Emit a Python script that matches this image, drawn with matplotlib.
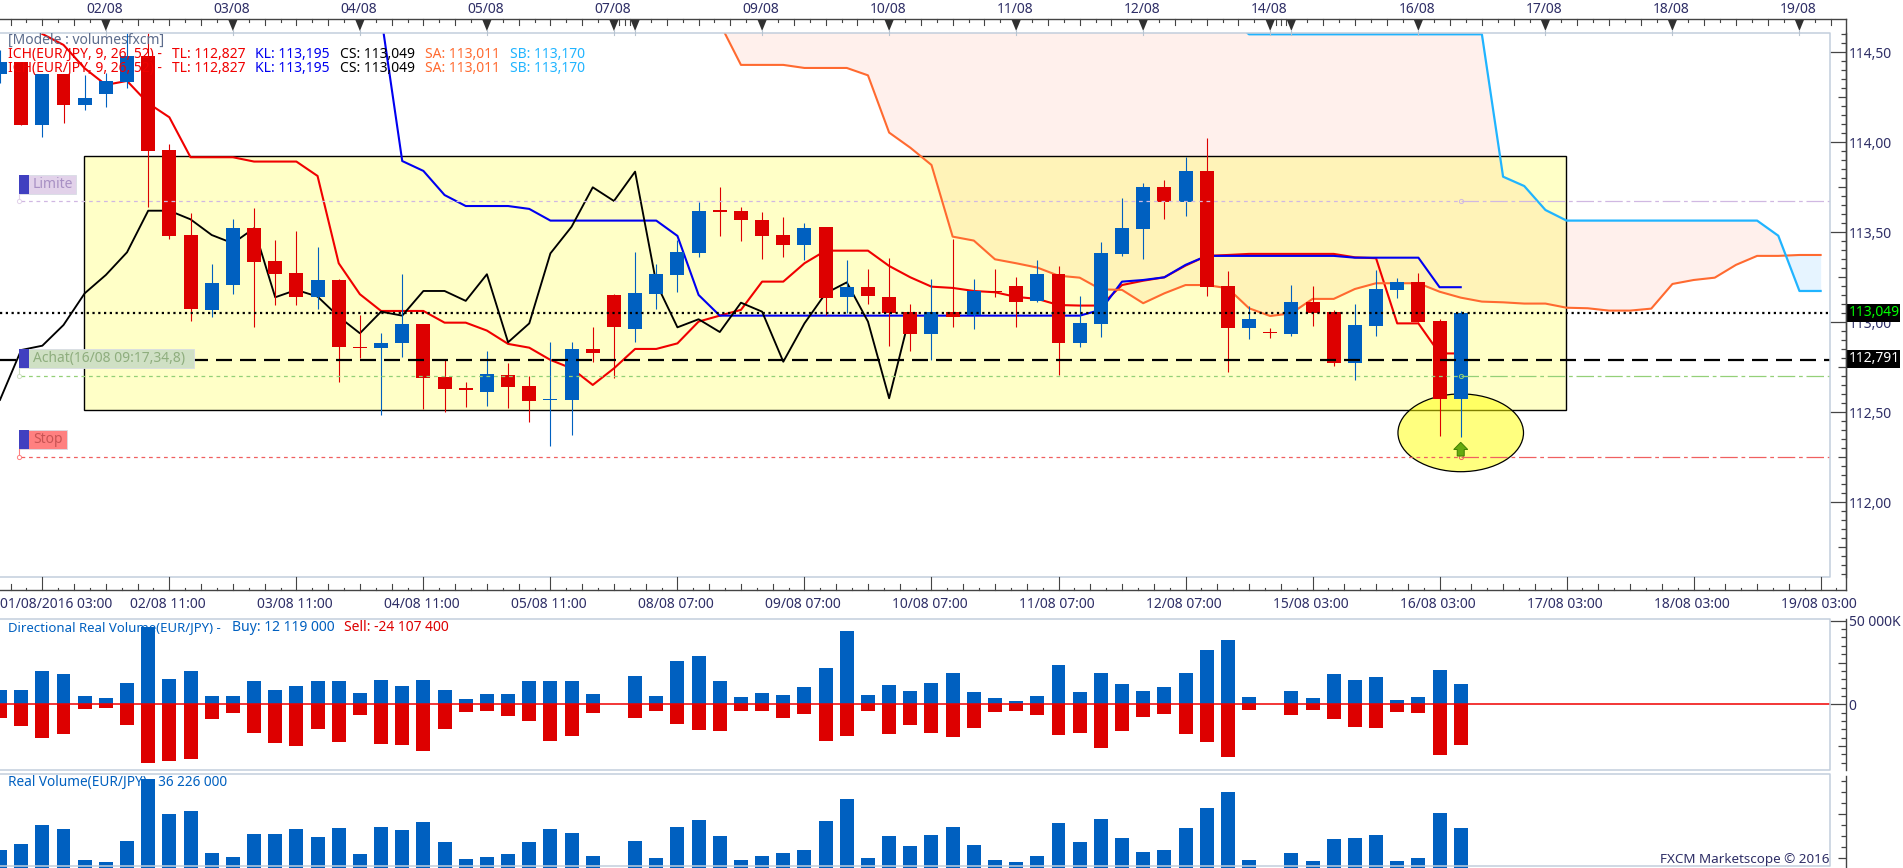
import numpy as np
import matplotlib
matplotlib.use("Agg")
import matplotlib.pyplot as plt
from matplotlib.patches import Rectangle, Ellipse, Polygon

W, H = 1903, 868
plt.rcParams['font.family'] = ['Noto Sans', 'DejaVu Sans']

opens = [114.380,114.446,114.096,114.380,114.207,114.268,114.335,114.480,113.957,113.485,
         113.069,113.209,113.524,113.341,113.274,113.143,113.235,112.865,112.859,112.887,
         112.991,112.696,112.635,112.615,112.707,112.646,112.567,112.570,112.852,113.152,
         112.965,113.157,113.263,113.385,113.624,113.619,113.569,113.485,113.430,113.530,
         113.141,113.196,113.141,113.056,112.937,113.056,113.041,113.174,113.202,113.119,
         113.268,112.887,112.991,113.380,113.518,113.752,113.670,113.841,113.202,112.969,
         112.948,112.937,113.113,113.056,112.776,112.980,113.180,113.224,113.007,112.576]
highs = [114.513,114.446,114.380,114.380,114.374,114.387,114.606,114.606,113.991,113.606,
         113.324,113.574,113.635,113.457,113.507,113.419,113.241,113.041,112.939,113.268,
         112.991,112.791,112.667,112.841,112.772,112.702,112.891,112.891,112.976,113.157,
         113.391,113.324,113.457,113.670,113.752,113.641,113.613,113.585,113.552,113.530,
         113.346,113.296,113.357,113.102,113.241,113.463,113.241,113.296,113.252,113.346,
         113.313,113.146,113.446,113.691,113.774,113.791,113.920,114.024,113.285,113.091,
         112.970,113.207,113.202,113.069,113.102,113.291,113.246,113.274,113.019,113.063]
lows = [114.328,114.096,114.031,114.109,114.180,114.198,114.302,113.639,113.463,113.009,
        113.031,113.157,112.976,113.098,113.096,113.074,112.670,112.804,112.485,112.809,
        112.518,112.504,112.531,112.535,112.526,112.448,112.315,112.374,112.778,112.693,
        112.893,113.076,113.169,113.363,113.480,113.452,113.352,113.363,113.346,113.041,
        113.050,113.102,112.868,112.841,112.791,112.976,112.965,113.143,112.976,113.113,
        112.707,112.865,112.920,113.369,113.352,113.574,113.591,113.146,112.726,112.907,
        112.915,112.926,112.980,112.759,112.681,112.926,113.135,113.002,112.370,112.365]
closes = [114.446,114.096,114.380,114.207,114.246,114.341,114.480,113.952,113.480,113.076,
          113.219,113.524,113.337,113.268,113.143,113.235,112.865,112.857,112.883,112.991,
          112.693,112.631,112.624,112.713,112.643,112.565,112.574,112.852,112.831,112.976,
          113.163,113.268,113.391,113.619,113.613,113.569,113.480,113.430,113.524,113.135,
          113.196,113.146,113.054,112.937,113.056,113.031,113.174,113.167,113.113,113.268,
          112.887,112.996,113.385,113.524,113.752,113.670,113.841,113.196,112.969,113.019,
          112.941,113.113,113.054,112.776,112.985,113.185,113.224,113.002,112.576,113.049]

tenkan_start = 2
tenkan = [114.602,114.541,114.411,114.319,114.341,114.217,114.139,113.917,113.917,113.917,
          113.893,113.893,113.893,113.813,113.328,113.156,113.063,113.063,113.063,112.998,
          112.998,112.954,112.880,112.859,112.791,112.744,112.652,112.744,112.852,112.852,
          112.883,113.004,113.037,113.069,113.226,113.226,113.328,113.398,113.398,113.398,
          113.313,113.250,113.198,113.191,113.174,113.167,113.141,113.130,113.096,113.093,
          113.093,113.207,113.231,113.250,113.315,113.369,113.374,113.380,113.380,113.380,
          113.380,113.380,113.361,113.356,112.994,112.994,112.827,112.827]
kijun_start = 18
kijun = [114.704,113.896,113.841,113.707,113.646,113.646,113.646,113.630,113.565,113.565,
         113.565,113.565,113.565,113.565,113.480,113.152,113.037,113.037,113.037,113.037,
         113.037,113.037,113.037,113.037,113.037,113.037,113.037,113.037,113.037,113.037,
         113.037,113.037,113.037,113.037,113.069,113.226,113.235,113.250,113.319,113.369,
         113.369,113.369,113.369,113.369,113.369,113.369,113.359,113.359,113.359,113.359,
         113.195,113.195]
chikou = [112.569,112.846,112.870,112.985,113.161,113.263,113.389,113.620,113.620,113.572,
          113.485,113.439,113.522,113.139,113.180,113.143,113.031,112.939,113.059,113.037,
          113.174,113.174,113.119,113.267,112.889,112.994,113.383,113.531,113.750,113.674,
          113.837,113.217,112.972,113.017,112.946,113.109,113.059,112.781,112.994,113.161,
          113.222,113.004,112.578,113.049]
senkou_start = 34
senkou_a = [114.661,114.430,114.430,114.430,114.413,114.413,114.413,114.372,114.054,113.970,
            113.874,113.476,113.454,113.350,113.328,113.304,113.259,113.248,113.183,113.180,
            113.106,113.161,113.207,113.207,113.189,113.078,113.035,113.050,113.130,113.130,
            113.185,113.217,113.217,113.217,113.170,113.137,113.115,113.111,113.104,113.104,
            113.081,113.078,113.065,113.065,113.076,113.213,113.235,113.248,113.319,113.369,
            113.369,113.374,113.374]
senkou_b = [114.70,114.70,114.70,114.70,114.70,114.70,114.70,114.70,114.70,114.70,
            114.70,114.70,114.70,114.70,114.70,114.70,114.70,114.70,114.70,114.70,
            114.70,114.70,114.70,114.70,114.70,114.60,114.60,114.60,114.60,114.60,
            114.60,114.60,114.60,114.60,114.60,114.60,114.60,113.809,113.757,113.624,
            113.565,113.565,113.565,113.565,113.565,113.565,113.565,113.565,113.565,113.565,
            113.481,113.174,113.174]

buy = [8.6,8.6,20.0,18.2,5.0,3.8,12.8,46.2,15.2,20.0,5.0,5.0,14.0,8.6,11.0,14.0,14.0,6.8,14.6,11.0,
       14.6,8.6,3.2,6.2,6.2,14.0,14.0,14.0,6.2,0,17.0,5.0,26.0,29.0,14.0,4.4,6.8,5.6,10.4,21.8,
       44.0,5.6,11.6,8.0,12.8,18.8,7.4,3.8,2.0,5.0,23.6,7.4,18.8,12.2,8.0,10.4,18.8,32.6,38.6,4.4,
       0,8.0,3.8,18.2,14.6,16.4,2.6,4.4,20.6,12.119]
sell = [-8.2,-13.0,-20.2,-17.8,-2.8,-2.2,-12.4,-35.2,-34.0,-32.8,-8.8,-5.2,-17.2,-23.2,-25.0,-14.8,-22.6,-6.4,-23.8,-24.4,
        -28.0,-14.8,-4.6,-4.0,-7.0,-10.0,-22.0,-19.0,-5.2,0,-8.2,-4.0,-11.8,-15.4,-16.0,-4.0,-4.0,-8.2,-5.8,-22.0,
        -19.0,-4.0,-17.8,-12.4,-17.2,-19.6,-14.2,-4.6,-4.0,-6.4,-18.4,-17.2,-26.2,-16.0,-7.6,-5.8,-17.8,-22.6,-31.6,-3.4,
        0,-6.4,-3.4,-8.8,-13.6,-14.2,-4.6,-5.2,-30.4,-24.107]
volume = [16.5,21.9,39.0,35.4,7.5,5.7,24.6,80.4,48.9,51.6,13.8,10.2,30.9,30.9,35.4,28.2,36.3,12.9,37.2,34.5,
          41.7,23.7,8.4,10.2,12.9,23.7,35.4,31.8,11.1,0,24.6,9.3,37.2,43.5,29.1,7.5,11.1,13.8,16.5,42.6,
          62.4,9.3,29.1,20.1,30.0,37.2,21.0,7.5,5.7,11.1,40.8,23.7,44.4,27.3,14.7,16.5,36.3,54.3,68.7,7.5,
          0,13.8,6.6,26.4,27.3,30.0,6.6,9.3,49.8,36.226]

close_level = 113.049
entry_level = 112.791
limit_level = 113.672
green_level = 112.70
stop_level = 112.25
zone_x = [3.97, 73.96]
zone_y = [112.511, 113.922]
marker_bar = 69

top_labels = {5:'02/08',11:'03/08',17:'04/08',23:'05/08',29:'07/08',36:'09/08',42:'10/08',48:'11/08',
              54:'12/08',60:'14/08',67:'16/08',73:'17/08',79:'18/08',85:'19/08'}
top_marks = [5,11,17,23,29,30,36,42,48,54,60,61,67,73,79,85]
bottom_labels = {8:'02/08 11:00',14:'03/08 11:00',20:'04/08 11:00',26:'05/08 11:00',32:'08/08 07:00',
                 38:'09/08 07:00',44:'10/08 07:00',50:'11/08 07:00',56:'12/08 07:00',62:'15/08 03:00',
                 68:'16/08 03:00',74:'17/08 03:00',80:'18/08 03:00',86:'19/08 03:00'}

RED = '#DD0000'; BLUE = '#0060C0'; INK = '#2E2E66'
BAR = 21.17
PR, AX = 1830, 1845.5

def axes_px(x0, x1, y0, y1, **kw):
    return fig.add_axes([x0/W, 1-y1/H, (x1-x0)/W, (y1-y0)/H], **kw)

def px(i):
    return BAR*i

fig = plt.figure(figsize=(W/100, H/100), dpi=100, facecolor='white')

# ---- price panel
TOP, BOT = 33, 577
def p_at(y): return 114.5-(y-52.3)/180
ax = axes_px(0, PR, TOP, BOT)
ax.set_xlim(0, PR/BAR); ax.set_ylim(p_at(BOT), p_at(TOP))
ax.set_xticks([]); ax.set_yticks([])
for s in ax.spines.values(): s.set_visible(False)

xs = np.arange(senkou_start, senkou_start+len(senkou_a))
sa, sb = np.array(senkou_a), np.array(senkou_b)
ax.fill_between(xs, sa, sb, where=sb >= sa, interpolate=True, color='#FFF0EC', lw=0, zorder=1)
ax.fill_between(xs, sa, sb, where=sb <= sa, interpolate=True, color='#E6F4FF', lw=0, zorder=1)

ax.add_patch(Rectangle((zone_x[0], zone_y[0]), zone_x[1]-zone_x[0], zone_y[1]-zone_y[0],
                       facecolor=(1, 1, 0, 0.22), edgecolor='black', lw=1.0, zorder=2))
ax.add_patch(Ellipse((marker_bar, 112.386), 5.93, 0.432, facecolor=(1, 1, 0, 0.5),
                     edgecolor='black', lw=0.9, zorder=2.1))

ax.plot(np.arange(tenkan_start, tenkan_start+len(tenkan)), tenkan, color='#F00000', lw=1.5, zorder=3)
ax.plot(np.arange(kijun_start, kijun_start+len(kijun)), kijun, color='#0000F0', lw=1.5, zorder=3)
ax.plot(np.arange(len(chikou)), chikou, color='black', lw=1.35, zorder=3)
ax.plot(xs, sa, color='#FF6A30', lw=1.5, zorder=3)
ax.plot(xs, sb, color='#20B4FF', lw=1.6, zorder=3)

o, h, l, c = map(np.array, (opens, highs, lows, closes))
x = np.arange(len(o))
col = [BLUE if cc >= oo else RED for oo, cc in zip(o, c)]
ax.vlines(x, l, h, colors=col, lw=0.8, zorder=4)
ax.bar(x, np.abs(c-o), bottom=np.minimum(o, c), width=0.66, color=col, lw=0, zorder=4.1)

END = PR/BAR
for lev, colr in ((limit_level, '#D0B8E2'), (green_level, '#94D078'), (stop_level, '#F06060')):
    ax.plot([1, marker_bar], [lev, lev], color=colr, lw=0.9, ls=(0, (3, 3)), zorder=5)
    ax.plot([marker_bar, END], [lev, lev], color=colr, lw=0.9, ls=(0, (14, 3, 3, 3)), zorder=5)
    ax.plot([marker_bar], [lev], 'o', ms=3, mfc='none', mec=colr, mew=0.7, zorder=5)
ax.plot([0, END], [close_level]*2, color='black', lw=1.6, ls=(0, (1, 1.6)), zorder=6)
ax.plot([0, END], [entry_level]*2, color='black', lw=1.6, ls=(0, (7.2, 3.6)), zorder=6)

# ---- directional volume
V1T, V1B = 619.3, 770.3
vscale = 50/83.6
v1 = axes_px(0, PR, V1T, V1B)
v1.set_xlim(0, PR/BAR)
v1lim = (-(V1B-704.3)*vscale, (704.3-V1T)*vscale)
v1.set_ylim(*v1lim)
v1.set_xticks([]); v1.set_yticks([])
for s in v1.spines.values(): s.set_visible(False)
v1.bar(x, buy, width=0.66, color=BLUE, lw=0, zorder=3)
v1.bar(x, sell, width=0.66, color=RED, lw=0, zorder=3)
v1.axhline(0, color='#F00000', lw=1.1, zorder=4)

# ---- volume
V2T, V2B = 774.3, 868.3
v2 = axes_px(0, PR, V2T, V2B)
v2.set_xlim(0, PR/BAR); v2.set_ylim(0, 84.6)
v2.set_xticks([]); v2.set_yticks([])
for s in v2.spines.values(): s.set_visible(False)
v2.bar(x, volume, width=0.66, color=BLUE, lw=0, zorder=3)

# ---- right scales
def scale_axes(y0, y1, lim, majors, minors, longs, labels=None):
    a = axes_px(PR, AX, y0, y1)
    a.patch.set_visible(False)
    a.set_ylim(*lim); a.set_xticks([])
    for n, s in a.spines.items():
        s.set_visible(n == 'right'); s.set_color('#444444'); s.set_linewidth(1.0)
    a.yaxis.tick_right()
    a.set_yticks(majors); a.set_yticks(minors, minor=True)
    a.tick_params(axis='y', which='major', direction='in', length=11.2, width=0.9, color='#444444',
                  pad=2.4, labelsize=10, labelcolor=INK)
    a.tick_params(axis='y', which='minor', direction='in', length=3.4, width=0.9, color='#444444')
    for t, v in zip(a.yaxis.get_minor_ticks(), minors):
        if any(abs(v-q) < 1e-6 for q in longs):
            t.tick2line.set_markersize(6.0)
    a.set_yticklabels(labels if labels else ['']*len(majors))
    return a

s_major = [112.0, 112.5, 113.0, 113.5, 114.0, 114.5]
s_minor = [round(v, 2) for v in np.arange(111.6, 114.61, 0.05) if round(v*2, 3) % 1 != 0]
scale_axes(TOP, BOT, (p_at(BOT), p_at(TOP)), s_major, s_minor,
           [111.75, 112.25, 112.75, 113.25, 113.75, 114.25],
           ['112,00', '112,50', '113,00', '113,50', '114,00', '114,50'])
v_minor = [-35, -30, -25, -20, -15, -10, -5, 5, 10, 15, 20, 25, 30, 35, 40, 45]
scale_axes(V1T, V1B, v1lim, [0, 50], v_minor, [-25, 25], ['0', '50 000K'])
scale_axes(V2T+2, V2B, (0.6, 84.6), [], [10, 20, 30, 40, 50, 60, 70, 80], [10, 50])

# ---- overlay chrome
ov = fig.add_axes([0, 0, 1, 1], zorder=10)
ov.set_xlim(0, W); ov.set_ylim(H, 0); ov.axis('off'); ov.patch.set_visible(False)
LIGHT = '#C2CEDC'; DARK = '#444444'

for seg in ([(0, TOP), (PR, TOP), (PR, BOT), (0, BOT)],
            [(0, V1T), (PR, V1T), (PR, V1B), (0, V1B)],
            [(0, V2T), (PR, V2T), (PR, 866), (0, 866)]):
    xx, yy = zip(*seg)
    ov.plot(xx, yy, color=LIGHT, lw=1.1, zorder=1)

# top time scale
ov.plot([0, AX], [19.3, 19.3], color=DARK, lw=1.0)
ov.plot([AX, AX], [19.3, 590], color=DARK, lw=1.0)
ov.plot([0, AX], [590, 590], color=DARK, lw=1.0)
STEP = BAR*6/8
def top_ticks(x0, a, b):
    k0 = int(np.floor((a-x0)/STEP)); k1 = int(np.ceil((b-x0)/STEP))
    for k in range(k0, k1):
        xt = x0+k*STEP
        if a <= xt < b and k % 8:
            ov.plot([xt, xt], [19.3, 25 if k % 2 == 0 else 22], color=DARK, lw=0.8)
top_ticks(px(5), 0, px(29)); top_ticks(px(30), px(30), px(60)); top_ticks(px(61), px(61), AX)
for xt in np.arange(px(29)+5.3, px(30), 5.3):
    ov.plot([xt, xt], [19.3, 25], color=DARK, lw=0.8)
for xt in np.arange(px(60)+5.3, px(61), 5.3):
    ov.plot([xt, xt], [19.3, 25], color=DARK, lw=0.8)
for i in top_marks:
    ov.add_patch(Polygon([(px(i)-4.5, 20), (px(i)+4.5, 20), (px(i), 31)], closed=True, color='#303030', lw=0))
    ov.plot([px(i)]*2, [30, 35], color='#B8C4D0', lw=0.8)
for i, t in top_labels.items():
    ov.text(px(i)-1, 9.3, t, ha='center', va='center', fontsize=10, color=INK)

# bottom time scale
for k in range(-2, 120):
    xt = px(2)+k*STEP
    if xt < 0 or xt > AX: continue
    if k % 8 == 0:
        ov.plot([xt, xt], [577, 590], color=DARK, lw=0.8)
    else:
        ov.plot([xt, xt], [584 if k % 2 == 0 else 588, 590], color=DARK, lw=0.8)
ov.text(0, 605, '01/08/2016 03:00', ha='left', va='center', fontsize=10, color=INK)
for i, t in bottom_labels.items():
    ov.text(px(i)-1.5, 605, t, ha='center', va='center', fontsize=10, color=INK)

# header
ov.text(8, 40.7, '[Modele : volumesfxcm]', fontsize=10, color='#5C6C8C', va='center')
for yy in (54.3, 68.3):
    for xt, t, colr in ((8, 'ICH(EUR/JPY, 9, 26, 52) -', '#F00000'), (171.5, 'TL: 112,827', '#F00000'),
                        (255, 'KL: 113,195', '#0000F0'), (339.5, 'CS: 113,049', 'black'),
                        (425, 'SA: 113,011', '#FF6A30'), (510, 'SB: 113,170', '#20B4FF')):
        ov.text(xt, yy, t, fontsize=10, color=colr, va='center')

# order labels
for xl, xr, yt, yb, t, fc, tc, yline in ((19, 75.5, 175, 194, 'Limite', '#E2D2EA', '#A890C4', limit_level),
                                         (19, 193.5, 349, 368, 'Achat(16/08 09:17,34,8)', '#CFE0C4', '#8FAE7E', green_level),
                                         (19, 67, 430, 449.3, 'Stop', '#FF8080', '#C85454', stop_level)):
    ov.add_patch(Rectangle((xl, yt), xr-xl, yb-yt, facecolor=fc, edgecolor='#D8DCE4', lw=0.6))
    ov.add_patch(Rectangle((xl, yt), 10, yb-yt, facecolor='#4040C0', lw=0))
    ov.text(xl+14, (yt+yb)/2, t, fontsize=10, color=tc, va='center')
    yy = 52.3+(114.5-yline)*180
    ov.plot([xl, xl], [yb, yy], color=fc, lw=0.8)
    ov.plot([xl], [yy], 'o', ms=3, mfc='white', mec=fc, mew=0.7)

# price badges
for yt, yb, t, colr in ((304, 321.7, '113,049', '#00FF00'), (350, 368, '112,791', 'white')):
    ov.add_patch(Rectangle((1846, yt), 54, yb-yt, facecolor='black', lw=0))
    ov.text(1849, (yt+yb)/2, t, fontsize=10, color=colr, va='center')

# buy arrow
cx = px(marker_bar)
ov.add_patch(Polygon([(cx, 442.3), (cx+7, 449.5), (cx+3.5, 449.5), (cx+3.5, 456),
                      (cx-3.5, 456), (cx-3.5, 449.5), (cx-7, 449.5)],
                     closed=True, facecolor='#66AA10', edgecolor='#3F7F00', lw=0.7))

# panel captions, drawn under the bars
v1.text(8.3, 627.7, 'Directional Real Volume(EUR/JPY) -', transform=ov.transData, fontsize=9.5, color=BLUE, va='center', zorder=2)
v1.text(232, 627.7, 'Buy: 12 119 000', transform=ov.transData, fontsize=10, color=BLUE, va='center', zorder=2)
v1.text(344, 627.7, 'Sell: -24 107 400', transform=ov.transData, fontsize=10, color=RED, va='center', zorder=2)
v2.text(8.3, 782.7, 'Real Volume(EUR/JPY) - 36 226 000', transform=ov.transData, fontsize=9.8, color=BLUE, va='center', zorder=2)
ov.text(1829, 860, 'FXCM Marketscope © 2016', ha='right', va='center', fontsize=9.7, color=INK)

fig.savefig('out.png', dpi=100, facecolor='white')
